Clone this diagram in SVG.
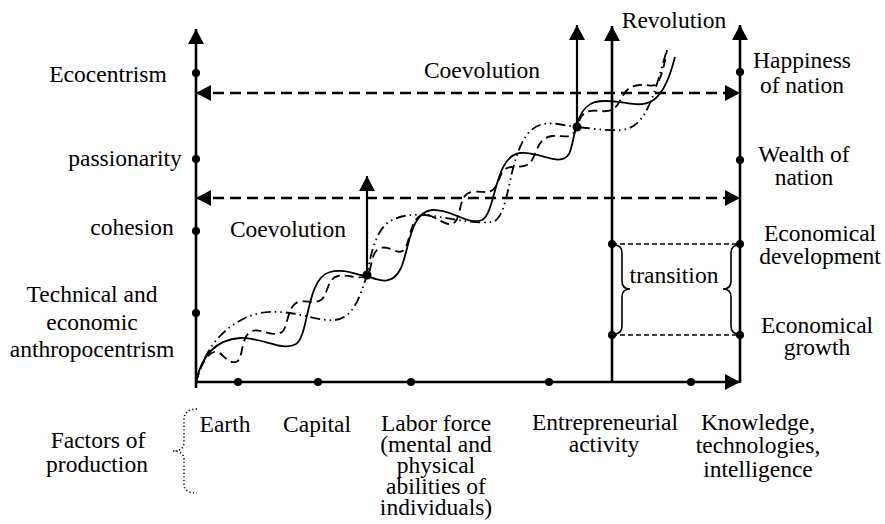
<svg xmlns="http://www.w3.org/2000/svg" width="885" height="524" viewBox="0 0 885 524" font-family="'Liberation Serif', 'DejaVu Serif', 'Noto Serif', 'Times New Roman', Times, serif">
<style>
  text { font-family: "Liberation Serif", "DejaVu Serif", "Noto Serif", "Times New Roman", Times, serif; font-size: 23.5px; fill: #000; text-anchor: middle; }
  .axis { stroke: #000; stroke-width: 2.6; fill: none; }
  .arr { stroke: #000; stroke-width: 2.2; fill: none; }
  .hdash { stroke: #000; stroke-width: 2.7; stroke-dasharray: 11 6; fill: none; }
  .thin { stroke: #000; stroke-width: 1.5; stroke-dasharray: 5 3; fill: none; }
  .brace { stroke: #000; stroke-width: 1.6; fill: none; }
  .dotted { stroke: #000; stroke-width: 1.5; stroke-dasharray: 1.2 2.4; fill: none; }
  .curve { stroke: #000; stroke-width: 1.8; fill: none; }
  .c-dash { stroke-dasharray: 9 5; }
  .c-dd { stroke-dasharray: 10 4 1.5 4 1.5 4; }
  .dot { fill: #000; }
  .tight { font-size: 22px; }
</style>
<defs>
  <marker id="ah" viewBox="0 0 15 16" refX="15" refY="8" markerWidth="15" markerHeight="16" markerUnits="userSpaceOnUse" orient="auto-start-reverse">
    <path d="M0,0 L15,8 L0,16 z" fill="#000"/>
  </marker>
</defs>

<g id="connectors">
  <line class="axis" x1="196" y1="388" x2="196" y2="29" marker-end="url(#ah)"/>
  <line class="axis" x1="196" y1="382" x2="740" y2="382" marker-end="url(#ah)"/>
  <line class="axis" x1="740" y1="383" x2="740" y2="25" marker-end="url(#ah)"/>
  <line class="axis" x1="612" y1="383" x2="612" y2="26" marker-end="url(#ah)"/>
  <line class="arr" x1="577" y1="127" x2="577" y2="25" marker-end="url(#ah)"/>
  <line class="arr" x1="367" y1="275" x2="367" y2="176" marker-end="url(#ah)"/>
  <line class="hdash" x1="196" y1="93" x2="740" y2="93" marker-start="url(#ah)" marker-end="url(#ah)"/>
  <line class="hdash" x1="196" y1="198" x2="740" y2="198" marker-start="url(#ah)" marker-end="url(#ah)"/>
  <line class="thin" x1="612" y1="244" x2="740" y2="244"/>
  <line class="thin" x1="612" y1="335" x2="740" y2="335"/>
  <path class="brace" d="M614,245 Q622,245 622,253 L622,281 Q622,289 630,289 Q622,289 622,297 L622,326 Q622,334 614,334"/>
  <path class="brace" d="M739,245 Q731,245 731,253 L731,281 Q731,289 723,289 Q731,289 731,297 L731,326 Q731,334 739,334"/>
  <path class="dotted" d="M197,409 Q184,409 184,420 L184,442 Q184,451 173,451 Q184,451 184,460 L184,484 Q184,493 197,493"/>
</g>

<g id="curves">
  <path class="curve" d="M196,382 C201,358 214,340 240,338 C262,337 282,352 296,344 C309,336 306,278 330,272 C346,268 358,276 367,276 C378,280 392,287 401,268 C409,250 410,212 432,210 C452,209 468,226 482,220 C496,213 494,156 520,153 C540,151 560,168 569,154 C575,143 574,108 595,102 C618,97 636,110 652,101 C665,93 671,72 675,57"/>
  <path class="curve c-dash" d="M196,382 C200,368 206,354 214,352 C222,350 226,364 236,362 C244,360 240,335 252,331 C262,328 272,338 282,332 C288,328 287,306 298,302 C306,300 315,304 321,300 C328,295 327,278 338,276 C348,274 358,280 367,276 C372,272 370,252 380,248 C390,245 398,256 404,250 C410,244 410,218 422,215 C434,212 446,230 455,222 C462,215 458,194 472,192 C484,190 490,196 496,186 C502,175 500,168 512,167 C524,166 526,168 532,160 C538,150 538,138 552,136 C564,135 570,140 576,130 C580,122 578,114 590,111 C600,109 610,116 618,104 C625,93 626,86 640,85 C652,84 655,90 660,78 C664,68 665,60 667,50"/>
  <path class="curve c-dd" d="M196,382 C205,350 220,330 245,318 C260,311 275,311 290,313 C305,315 320,321 335,320 C352,318 358,300 362,290 C365,282 366,277 367,275 C370,260 373,238 385,225 C395,216 410,214 425,215 C445,217 470,224 492,222 C505,220 508,185 514,165 C519,148 525,130 540,125 C552,121 565,126 577,127 C590,128 605,131 622,130 C640,128 648,110 655,90 C660,75 663,62 667,50"/>
</g>

<g id="dots">
  <circle class="dot" cx="196" cy="73" r="4"/>
  <circle class="dot" cx="196" cy="159" r="4"/>
  <circle class="dot" cx="196" cy="231" r="4"/>
  <circle class="dot" cx="196" cy="313" r="4"/>
  <circle class="dot" cx="740" cy="72" r="4"/>
  <circle class="dot" cx="740" cy="160" r="4"/>
  <circle class="dot" cx="740" cy="244" r="4"/>
  <circle class="dot" cx="740" cy="335" r="4"/>
  <circle class="dot" cx="612" cy="244" r="4"/>
  <circle class="dot" cx="612" cy="335" r="4"/>
  <circle class="dot" cx="238" cy="382" r="4"/>
  <circle class="dot" cx="318" cy="382" r="4"/>
  <circle class="dot" cx="411" cy="382" r="4"/>
  <circle class="dot" cx="549" cy="382" r="4"/>
  <circle class="dot" cx="691" cy="382" r="4"/>
  <circle class="dot" cx="367" cy="275" r="4.5"/>
  <circle class="dot" cx="577" cy="127" r="4.5"/>
</g>

<g id="left-labels">
  <g id="n-ecocentrism"><text x="108" y="82">Ecocentrism</text></g>
  <g id="n-passionarity"><text x="125" y="166">passionarity</text></g>
  <g id="n-cohesion"><text x="132" y="235">cohesion</text></g>
  <g id="n-anthropocentrism"><text x="92" y="302">Technical and</text><text x="92" y="330">economic</text><text x="92" y="357">anthropocentrism</text></g>
</g>

<g id="right-labels">
  <g id="n-happiness"><text x="802" y="68">Happiness</text><text x="802" y="93">of nation</text></g>
  <g id="n-wealth"><text x="804" y="162">Wealth of</text><text x="804" y="185">nation</text></g>
  <g id="n-development"><text x="820" y="241">Economical</text><text x="820" y="264">development</text></g>
  <g id="n-growth"><text x="817" y="333">Economical</text><text x="817" y="355">growth</text></g>
</g>

<g id="inner-labels">
  <g id="n-revolution"><text x="674" y="28">Revolution</text></g>
  <g id="n-coevolution-upper"><text x="482" y="78">Coevolution</text></g>
  <g id="n-coevolution-lower"><text x="288" y="237">Coevolution</text></g>
  <g id="n-transition"><text x="674" y="283">transition</text></g>
</g>

<g id="bottom-labels">
  <g id="n-factors"><text x="98" y="448">Factors of</text><text x="97" y="472">production</text></g>
  <g id="n-earth"><text x="225" y="432">Earth</text></g>
  <g id="n-capital"><text x="317" y="432">Capital</text></g>
  <g id="n-labor"><text x="436" y="431">Labor force</text><text x="436" y="452">(mental and</text><text x="436" y="473">physical</text><text x="436" y="494">abilities of</text><text x="436" y="515">individuals)</text></g>
  <g id="n-entrepreneurial"><text x="605" y="430">Entrepreneurial</text><text x="604" y="452">activity</text></g>
  <g id="n-knowledge"><text x="758" y="430">Knowledge,</text><text x="758" y="453">technologies,</text><text x="758" y="477">intelligence</text></g>
</g>
</svg>
